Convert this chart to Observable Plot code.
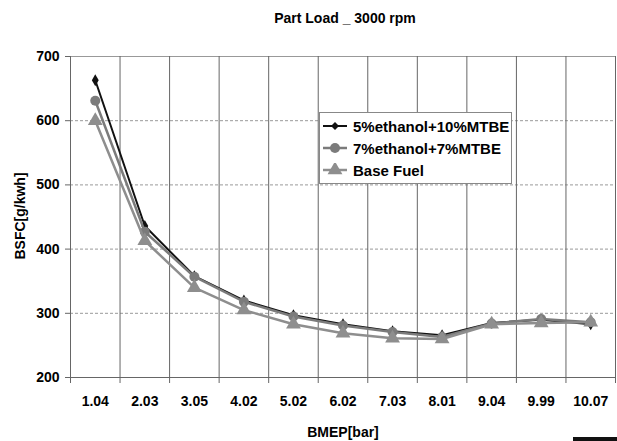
<!DOCTYPE html>
<html>
<head>
<meta charset="utf-8">
<script src="https://cdn.jsdelivr.net/npm/d3@7"></script>
<script src="https://cdn.jsdelivr.net/npm/@observablehq/plot@0.6"></script>
<style>
  html, body { margin: 0; padding: 0; background: #fff; }
  #wrap { position: relative; width: 617px; height: 441px; overflow: hidden; font-family: "Liberation Sans", Arial, sans-serif; font-weight: bold; color: #000; }
  #title { position: absolute; left: 0; top: 10px; width: 690px; text-align: center; font-size: 14px; }
  #chart { position: absolute; left: 0; top: 40px; }
  #ylab { position: absolute; left: 20px; top: 216px; transform: translate(-50%, -50%) rotate(-90deg); font-size: 14px; white-space: nowrap; }
  #xlab { position: absolute; left: 343px; top: 432px; transform: translate(-50%, -50%); font-size: 14px; white-space: nowrap; }
  #legend { position: absolute; left: 319px; top: 112px; width: 191px; height: 70px; background: #fff; border: 1px solid #888; }
  .item { position: absolute; left: 2px; height: 20px; display: flex; align-items: center; font-size: 15px; }
  .item svg { margin-right: 5px; }
  #blk { position: absolute; left: 573px; top: 437px; width: 44px; height: 6px; background: #111; }
</style>
</head>
<body>
<div id="wrap">
  <div id="title">Part Load _ 3000 rpm</div>
  <div id="chart"></div>
  <div id="ylab">BSFC[g/kwh]</div>
  <div id="xlab">BMEP[bar]</div>
  <div id="legend"></div>
  <div id="blk"></div>
</div>
<script>
const categories = ["1.04", "2.03", "3.05", "4.02", "5.02", "6.02", "7.03", "8.01", "9.04", "9.99", "10.07"];
const seriesNames = ["5%ethanol+10%MTBE", "7%ethanol+7%MTBE", "Base Fuel"];
const fuel1 = [663, 436, 358, 320, 297, 283, 272, 266, 285, 290, 283];
const fuel2 = [631, 427, 357, 318, 295, 281, 271, 263, 284, 291, 286];
const baseFuel = [600, 413, 340, 305, 283, 269, 261, 260, 283, 285, 286];
const yTicks = [200, 300, 400, 500, 600, 700];

const colors = ["#111111", "#7b7b7b", "#8e8e8e"];
const symbols = ["diamond", "circle", "triangle"];
const radii = [3.6, 5, 5.5];
const allSeries = [fuel1, fuel2, baseFuel];

const idx = d3.range(categories.length);
const bounds = d3.range(categories.length + 1).map(i => i - 0.5);

const seriesMarks = [];
allSeries.forEach((vals, k) => {
  const data = vals.map((v, i) => ({i, v, s: seriesNames[k]}));
  seriesMarks.push(Plot.line(data, {x: "i", y: "v", stroke: colors[k], strokeWidth: k === 0 ? 2 : 2.5}));
  seriesMarks.push(Plot.dot(data, {x: "i", y: "v", symbol: () => symbols[k], fill: colors[k], stroke: "none", r: radii[k]}));
});

const chart = Plot.plot({
  width: 617,
  height: 401,
  marginLeft: 70,
  marginRight: 2,
  marginTop: 16,
  marginBottom: 64,
  x: {type: "linear", domain: [-0.5, categories.length - 0.5]},
  y: {domain: [200, 700]},
  symbol: {type: "identity"},
  style: {fontFamily: "'Liberation Sans', Arial, sans-serif", fontSize: "14px", fontWeight: "bold", color: "#000", background: "transparent", overflow: "visible"},
  marks: [
    Plot.ruleY(yTicks.slice(1, -1), {stroke: "#999", strokeDasharray: "3,2"}),
    Plot.ruleY([700], {stroke: "#999"}),
    Plot.ruleX(bounds, {stroke: "#666"}),
    Plot.ruleY([200], {stroke: "#666"}),
    Plot.axisY({ticks: yTicks, tickSize: 5, tickPadding: 6, label: null, stroke: "#666"}),
    Plot.axisX({ticks: bounds, tickFormat: () => "", tickSize: 6, label: null, stroke: "#666"}),
    Plot.axisX({ticks: idx, tickFormat: i => categories[i], tickSize: 0, tickPadding: 19, label: null}),
    ...seriesMarks
  ]
});
document.getElementById("chart").appendChild(chart);

// legend
const legend = d3.select("#legend");
seriesNames.forEach((name, k) => {
  const item = legend.append("div").attr("class", "item").style("top", (3 + k * 22) + "px");
  const svg = item.append("svg").attr("width", 26).attr("height", 14);
  svg.append("line").attr("x1", 1).attr("x2", 25).attr("y1", 7).attr("y2", 7)
    .attr("stroke", colors[k]).attr("stroke-width", k === 0 ? 2 : 2.5);
  const sym = {diamond: d3.symbolDiamond2, circle: d3.symbolCircle, triangle: d3.symbolTriangle}[symbols[k]];
  const size = Math.PI * radii[k] * radii[k];
  svg.append("path").attr("transform", "translate(13,7)")
    .attr("d", d3.symbol(sym, size)()).attr("fill", colors[k]);
  item.append("span").text(name);
});
</script>
</body>
</html>
